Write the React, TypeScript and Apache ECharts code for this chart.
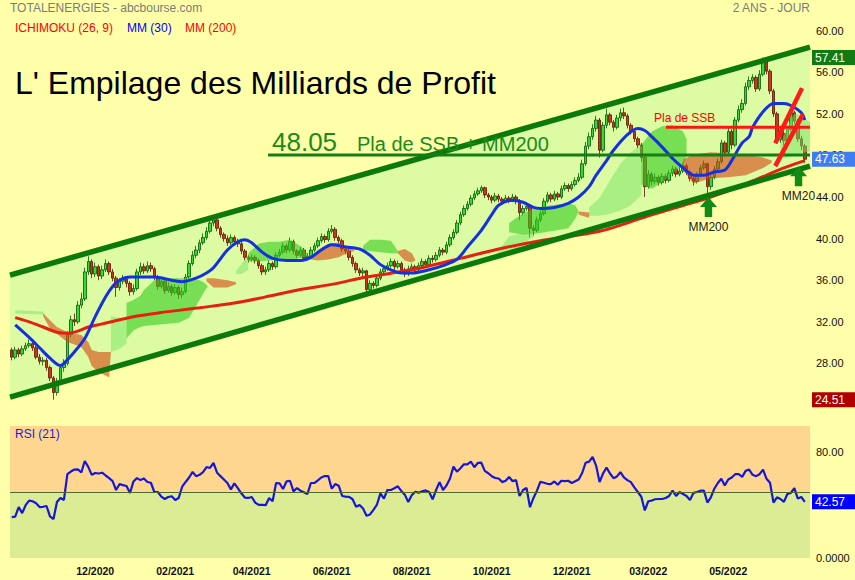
import React, { useEffect, useRef } from "react";
import * as echarts from "echarts";

const FONT = "Liberation Sans, Arial, Helvetica, sans-serif";

// ---------- data ----------
const N_SLOTS = 230;
const FIRST_OPEN = 29.3;

const closes = [
  28.6, 29.3, 28.9, 29.4, 29.7, 29.9, 29.5, 28.6, 28.2, 28.3,
  27.6, 26.6, 25.2, 26.3, 27.6, 28.0, 30.8, 32.2, 32.0, 33.6,
  34.2, 36.8, 37.8, 36.6, 37.3, 36.4, 37.0, 37.6, 36.8, 36.2,
  35.3, 35.9, 36.1, 35.7, 34.9, 35.2, 36.8, 37.3, 36.9, 37.4,
  37.1, 36.3, 35.4, 35.9, 35.0, 35.4, 34.8, 35.3, 34.6, 34.9,
  36.3, 37.6, 38.4, 38.9, 39.6, 40.1, 40.7, 41.5, 41.8, 41.0,
  40.4, 40.0, 39.6, 40.1, 39.7, 39.5, 38.8, 38.2, 38.0, 38.2,
  37.9, 37.4, 36.8, 37.0, 37.6, 37.3, 38.4, 38.7, 39.3, 38.9,
  39.7, 38.8, 38.4, 38.9, 38.1, 38.3, 38.9, 39.3, 39.8, 40.2,
  39.9, 40.7, 40.9, 40.1, 39.8, 39.0, 38.8, 38.2, 37.6, 37.0,
  36.7, 36.9, 35.1, 35.7, 35.5, 36.2, 36.8, 37.1, 37.4, 37.8,
  37.3, 37.6, 37.0, 36.6, 37.1, 37.3, 37.0, 37.4, 37.8, 37.5,
  38.1, 38.0, 38.4, 38.9, 38.7, 39.4, 40.1, 40.6, 41.5, 42.3,
  42.9, 43.3, 43.9, 44.3, 44.6, 44.9, 44.2, 44.0, 43.7, 44.1,
  43.8, 43.6, 43.9, 43.7, 44.0, 43.6, 42.5, 42.9, 43.1, 41.0,
  40.8, 41.8, 42.4, 43.6, 44.2, 43.8, 44.3, 44.0, 44.8, 45.1,
  44.8, 45.2, 45.6, 45.9, 47.2, 48.9, 49.8, 50.6, 51.4, 48.5,
  50.9, 51.9, 51.2, 50.7, 51.6, 52.1, 51.8, 50.9, 50.3, 49.6,
  49.0, 47.8, 45.0, 46.2, 45.5, 45.9, 45.4, 46.0, 45.6, 46.3,
  46.7, 46.2, 46.5, 47.0, 46.4, 45.8, 45.5, 46.1, 46.8, 47.2,
  45.0, 45.9, 46.7, 47.4, 49.2, 48.3, 50.3, 49.0, 51.4, 52.4,
  53.0, 54.6, 55.2, 55.5, 54.4, 55.8, 57.0, 56.1, 54.2, 52.0,
  49.5, 50.1, 49.4, 50.5, 52.1, 51.3, 49.6, 48.9, 47.63,
];

const highs = [
  29.5, 29.6, 29.5, 29.7, 30.0, 30.3, 30.1, 29.7, 28.9, 28.6,
  28.5, 27.8, 26.8, 26.6, 27.9, 28.4, 31.1, 32.6, 32.8, 34.0,
  34.8, 37.2, 38.3, 38.0, 37.7, 37.5, 37.4, 38.0, 37.8, 37.1,
  36.4, 36.2, 36.5, 36.3, 35.9, 35.6, 37.1, 37.7, 37.6, 37.8,
  37.7, 37.3, 36.5, 36.3, 36.1, 35.8, 35.6, 35.6, 35.5, 35.3,
  36.6, 37.9, 38.8, 39.3, 39.9, 40.5, 41.1, 41.9, 42.2, 42.0,
  41.2, 40.6, 40.3, 40.4, 40.3, 40.0, 39.7, 39.0, 38.4, 38.5,
  38.4, 38.1, 37.6, 37.3, 37.9, 37.8, 38.7, 39.0, 39.6, 39.5,
  40.1, 39.9, 39.0, 39.2, 39.1, 38.6, 39.2, 39.6, 40.1, 40.5,
  40.4, 41.0, 41.3, 41.1, 40.3, 40.0, 39.2, 39.0, 38.4, 37.8,
  37.2, 37.2, 37.0, 36.0, 35.9, 36.5, 37.1, 37.4, 37.7, 38.1,
  38.0, 37.9, 37.8, 37.2, 37.4, 37.6, 37.5, 37.7, 38.1, 38.0,
  38.4, 38.4, 38.7, 39.2, 39.1, 39.7, 40.4, 40.9, 41.8, 42.6,
  43.2, 43.6, 44.2, 44.6, 44.9, 45.1, 45.0, 44.4, 44.2, 44.4,
  44.3, 44.0, 44.2, 44.1, 44.3, 44.2, 43.8, 43.2, 43.5, 43.2,
  41.3, 42.1, 42.7, 43.9, 44.5, 44.4, 44.6, 44.5, 45.1, 45.4,
  45.3, 45.5, 45.9, 46.3, 47.6, 49.3, 50.2, 51.0, 51.8, 51.6,
  51.2, 52.5, 52.1, 51.4, 51.9, 52.5, 52.6, 52.0, 51.1, 50.5,
  49.8, 49.2, 48.0, 46.6, 46.4, 46.3, 46.1, 46.3, 46.2, 46.6,
  47.0, 46.9, 46.9, 47.3, 47.2, 46.6, 46.0, 46.4, 47.1, 47.5,
  47.3, 46.2, 47.0, 47.7, 49.5, 49.4, 50.7, 50.5, 51.7, 52.8,
  53.4, 55.0, 55.6, 55.8, 55.7, 56.2, 57.41, 57.2, 56.3, 54.4,
  52.2, 50.5, 50.4, 50.8, 52.5, 52.3, 51.5, 49.9, 49.1,
];

const lows = [
  28.3, 28.4, 28.6, 28.7, 29.2, 29.5, 29.2, 28.4, 27.9, 27.8,
  27.3, 26.3, 24.51, 24.9, 26.1, 27.2, 27.8, 30.5, 31.6, 31.8,
  33.3, 34.0, 36.5, 36.2, 36.3, 36.0, 36.1, 36.8, 36.5, 35.9,
  34.4, 35.0, 35.6, 35.3, 34.5, 34.6, 35.0, 36.5, 36.6, 36.7,
  36.8, 36.0, 35.1, 35.2, 34.7, 34.8, 34.5, 34.6, 34.2, 34.3,
  34.7, 36.1, 37.4, 38.1, 38.6, 39.4, 39.9, 40.5, 41.2, 40.7,
  40.1, 39.7, 39.3, 39.4, 39.4, 39.2, 38.5, 37.9, 37.7, 37.8,
  37.6, 37.1, 36.5, 36.5, 36.8, 37.0, 37.1, 38.2, 38.5, 38.6,
  38.7, 38.5, 38.1, 38.2, 37.8, 37.9, 38.1, 38.7, 39.1, 39.6,
  39.6, 39.7, 40.5, 39.8, 39.5, 38.7, 38.5, 37.9, 37.3, 36.7,
  36.4, 36.4, 34.4, 34.8, 35.2, 35.3, 36.0, 36.6, 36.9, 37.2,
  37.0, 37.1, 36.7, 36.3, 36.4, 36.9, 36.7, 36.8, 37.2, 37.2,
  37.3, 37.7, 37.8, 38.2, 38.4, 38.5, 39.2, 39.9, 40.4, 41.3,
  42.1, 42.7, 43.1, 43.7, 44.1, 44.4, 43.9, 43.7, 43.4, 43.5,
  43.5, 43.3, 43.4, 43.4, 43.5, 43.3, 41.8, 42.2, 42.7, 40.1,
  40.3, 40.6, 41.6, 42.2, 43.4, 43.5, 43.6, 43.7, 43.8, 44.6,
  44.5, 44.6, 45.0, 45.4, 45.7, 47.0, 48.6, 49.5, 50.3, 47.8,
  48.3, 50.6, 50.9, 50.3, 50.5, 51.3, 51.5, 50.6, 50.0, 49.3,
  48.7, 47.4, 44.0, 44.8, 45.1, 45.2, 45.1, 45.2, 45.3, 45.4,
  46.0, 45.9, 46.0, 46.3, 46.1, 45.5, 45.1, 45.3, 45.9, 46.6,
  44.0, 44.7, 45.7, 46.5, 47.2, 48.0, 48.1, 48.6, 48.8, 51.2,
  52.1, 52.8, 54.3, 54.9, 54.1, 54.2, 55.6, 55.8, 53.9, 51.7,
  49.1, 49.2, 49.0, 49.2, 50.3, 51.0, 49.3, 48.5, 47.3,
];

const rsi = [
  31, 31.3, 38.6, 34, 40, 43.5, 43, 41.5, 38.6, 38.8,
  39.4, 31.5, 29.5, 42.4, 45.5, 44, 63.5, 65.5, 67, 67.2,
  64.8, 73.5, 69, 63, 64.4, 64, 64.6, 62.5, 60.5, 58.3,
  51.5, 56, 55.2, 54.5, 49.2, 58, 60.5, 59, 60.2, 57.6,
  57, 50, 50, 46.5, 44.7, 46.2, 46.8, 43.9, 45.5, 54,
  57.6, 61, 65.2, 62, 63, 65, 68.9, 68.2, 72, 64.8,
  62, 59.5, 56.8, 52, 56.5, 53, 49, 45.8, 45.5, 46.2,
  42, 40.2, 40.2, 40, 45.5, 43, 56.8, 56.5, 52.3, 58,
  58.5, 50.5, 53, 51, 49.8, 48.5, 56.8, 56.8, 58.8, 61,
  62.1, 62.1, 52.5, 56, 54.8, 47, 46.5, 46.3, 44.5, 38.8,
  40.2, 37.5, 32, 33, 36.5, 40.5, 49, 45, 51.5, 51.5,
  52.8, 54.3, 50.8, 48, 42.5, 47.5, 50.2, 49.5, 50.5, 51.2,
  50, 44.5, 51.5, 57.5, 51.5, 55, 60.2, 69.2, 65.4, 68,
  71, 71, 73, 68.8, 72, 72.2, 66, 64.2, 62, 60.6,
  60.2, 57.5, 58.5, 61.4, 58.2, 59, 47, 51.5, 53, 38.5,
  45.5, 51, 57.8, 57, 56.2, 56, 58, 55.5, 58.5, 58.2,
  58.5, 56.8, 58.2, 59.5, 64.4, 72.2, 73, 76.5, 70, 57.5,
  64, 68.5, 64, 60.5, 61.8, 65, 61, 59, 57.5, 53.5,
  50, 46.4, 36, 43, 43.5, 44.5, 44.7, 44.7, 45.5, 47,
  51, 47, 50, 48.5, 47, 44, 49.3, 50, 51, 51,
  42, 46, 52.5, 56.8, 60, 55, 59.5, 61, 63.5, 63.5,
  61.5, 66, 67, 63, 62, 63.5, 67, 60, 57, 42,
  46, 44.7, 42.5, 48.5, 49.3, 53, 45, 46.2, 42.57,
];

// moving averages: [slot index, value]
const mm30 = [
  [1, 31.7], [5, 30.5], [8, 29.5], [11, 28.5], [14, 27.8], [15, 28.0], [18, 29.1],
  [21, 30.4], [24, 32.5], [27, 34.4], [29, 35.4], [31, 36.0], [34, 36.3], [37, 36.3],
  [41, 36.3], [46, 36.0], [49, 35.85], [53, 36.2], [56, 36.7], [58, 37.2], [62, 38.9],
  [65, 39.7], [67, 39.9], [69, 39.6], [72, 38.7], [75, 38.1], [79, 37.9], [83, 37.9],
  [86, 38.2], [89, 38.9], [92, 39.4], [96, 39.2], [100, 39.0], [103, 38.4], [106, 37.5],
  [109, 37.0], [112, 36.7], [115, 36.7], [120, 37.0], [124, 37.4], [128, 38.0],
  [131, 39.2], [135, 40.8], [138, 42.3], [140, 43.2], [144, 43.7], [147, 43.5],
  [150, 43.0], [152, 42.9], [156, 43.0], [160, 43.4], [163, 44.0], [166, 45.0],
  [168, 46.1], [171, 47.5], [173, 48.5], [177, 50.0], [180, 50.6], [182, 50.4],
  [184, 49.8], [187, 48.8], [190, 47.7], [193, 46.8], [196, 46.1], [199, 46.1],
  [202, 46.4], [205, 46.6], [207, 47.5], [210, 49.2], [212, 49.8], [213, 50.7],
  [216, 52.2], [219, 53.0], [222, 53.0], [224, 52.8], [227, 52.1], [228, 51.4],
];

const mm200 = [
  [1, 32.4], [5, 32.0], [9, 31.5], [13, 31.0], [16, 30.9], [19, 31.1], [22, 31.5],
  [26, 31.8], [31, 32.2], [37, 32.6], [43, 32.9], [48, 33.1], [54, 33.35], [64, 33.8],
  [73, 34.4], [83, 35.1], [92, 35.6], [102, 36.3], [115, 37.0], [129, 38.1],
  [140, 39.0], [152, 39.8], [169, 40.7], [184, 42.3], [201, 44.0], [212, 45.4],
  [222, 46.8], [228, 47.5],
];

// Ichimoku cloud pieces: rows of [slot index, upper, lower]
const kumoBull = [
  [[33, 33.8, 30.4], [35, 34.1, 31.2], [37, 34.5, 31.5], [38, 35.05, 31.6], [41, 36.0, 31.7],
   [44, 36.2, 31.8], [48, 36.2, 31.9], [51, 36.2, 32.4], [54, 36.0, 34.1], [55.6, 35.7, 35.05], [56.4, 35.4, 35.4]],
  [[68, 38.6, 37.8], [71, 39.5, 37.8], [74, 39.7, 37.9], [77, 39.7, 38.0], [80, 39.9, 38.0], [83, 39.3, 38.1], [85, 38.6, 38.3]],
  [[101, 39.3, 38.9], [103, 39.9, 38.8], [106, 39.9, 38.7], [109, 39.8, 38.6], [111, 38.8, 38.6]],
  [[143, 41.5, 40.6], [147, 42.45, 40.4], [151, 43.0, 40.5], [155, 43.2, 40.7], [160, 43.4, 41.0], [162, 43.2, 41.9], [163, 42.6, 42.6]],
  [[181, 49.0, 45.2], [184, 50.3, 44.8], [187, 50.8, 45.4], [190, 50.9, 46.3], [193, 50.3, 47.0], [194, 49.6, 48.0]],
];

const kumoBear = [
  [[9, 32.84, 32.55], [11, 32.16, 31.39], [13, 31.49, 30.82], [16, 31.0, 30.05], [20, 30.72, 29.57],
   [22, 30.05, 28.61], [23, 29.28, 27.74], [25, 29.09, 27.16], [28, 29.09, 26.68], [28.5, 29.09, 29.0]],
  [[56, 36.2, 35.9], [58, 36.2, 35.3], [62, 36.0, 35.3], [64.5, 35.8, 35.6]],
  [[86, 38.2, 38.0], [88, 38.9, 37.9], [91, 39.5, 38.0], [94, 39.6, 38.2], [97, 39.2, 38.7], [98.5, 38.9, 38.8]],
  [[111, 38.8, 38.6], [113, 39.0, 37.9], [115, 38.6, 37.7], [116, 38.0, 37.9]],
  [[163, 42.6, 42.3], [166, 42.5, 42.0]],
  [[193, 47.6, 46.6], [196, 48.1, 45.3], [201, 48.3, 45.8], [206, 48.2, 45.9], [211, 48.1, 46.1], [216, 47.8, 46.8], [218.5, 47.5, 47.3]],
];

const kumoLight = [
  [[1, 33.1, 32.8], [9, 33.0, 32.7]],
  [[28.5, 32.5, 29.1], [31, 32.4, 29.4], [33, 32.2, 29.9]],
  [[64.5, 36.9, 36.6], [66, 37.5, 36.6], [68, 38.4, 37.0]],
  [[139, 38.3, 37.9], [141, 39.3, 38.1], [143, 40.2, 38.6], [146, 40.5, 39.2], [150, 40.5, 40.2]],
  [[166, 43.0, 42.2], [169, 43.9, 42.2], [172, 45.6, 42.4], [175, 47.2, 42.7], [178, 48.3, 43.2], [181, 49.0, 44.2]],
  [[221, 49.0, 47.6], [223, 50.8, 47.8], [225, 52.0, 48.0], [227, 51.8, 48.2], [229.5, 51.2, 48.4]],
];

// drawn annotations (slot index, price)
const channelUpper = [[-0.5, 36.49], [229.5, 58.41]];
const channelLower = [[-0.5, 24.76], [229.5, 46.97]];
const levelSSBMM200 = [[73.7, 48.05], [229.5, 48.05]];
const levelSSB = [[188.1, 50.72], [229.5, 50.72]];
const trendA = [[219.5, 49.18], [227.2, 54.47]];
const trendB = [[219.5, 46.97], [227.5, 51.97]];
const arrowMarks = [
  { name: "MM200", coord: [200.3, 43.03] },
  { name: "MM20", coord: [226.2, 46.0] },
];

const xTickIdx = [24, 47, 69, 92, 115, 138, 161, 183, 206];
const xTickLabels = ["12/2020", "02/2021", "04/2021", "06/2021", "08/2021", "10/2021", "12/2021", "03/2022", "05/2022"];

const priceBoxes = [
  { value: 57.41, color: "#127a12" },
  { value: 47.63, color: "#3f7ef0" },
  { value: 24.51, color: "#b00000" },
];
const rsiLast = 42.57;

// ---------- helpers ----------
function polySeries(pieces: number[][][], color: string, z: number) {
  return {
    type: "custom",
    xAxisIndex: 1,
    yAxisIndex: 0,
    z,
    silent: true,
    clip: true,
    data: pieces.map((p, k) => [p[0][0], p[0][1], k]),
    encode: { x: 0, y: 1 },
    renderItem: (_params: any, api: any) => {
      const piece = pieces[api.value(2)];
      const top = piece.map((r) => api.coord([r[0], r[1]]));
      const bot = piece.slice().reverse().map((r) => api.coord([r[0], r[2]]));
      return { type: "polygon", shape: { points: top.concat(bot) }, style: { fill: color } };
    },
  };
}

function segLine(data: number[][], color: string, width: number, z: number, extra: any = {}) {
  return {
    type: "line",
    xAxisIndex: 1,
    yAxisIndex: 0,
    data,
    z,
    silent: true,
    showSymbol: false,
    symbol: "none",
    lineStyle: { color, width },
    ...extra,
  };
}

function txt(text: string, x: number, y: number, fill: string, fontSize: number, align = "left") {
  return {
    type: "text",
    x,
    y,
    z: 100,
    silent: true,
    style: {
      text,
      fill,
      fontSize,
      fontFamily: FONT,
      textAlign: align,
      align,
      textVerticalAlign: "middle",
      verticalAlign: "middle",
    },
  };
}

const HIDDEN = "rgba(0,0,0,0)";

export default function App() {
  const ref = useRef<HTMLDivElement>(null);

  useEffect(() => {
    if (!ref.current) return;
    const chart = echarts.init(ref.current, undefined, { renderer: "svg" });

    const cats = Array.from({ length: N_SLOTS }, (_, i) => String(i));
    const opens = closes.map((c, i) => (i === 0 ? FIRST_OPEN : closes[i - 1]));
    const candleData = closes.map((c, i) => [opens[i], c, lows[i], highs[i]]);
    const channelPiece = [[
      [channelUpper[0][0], channelUpper[0][1], channelLower[0][1]],
      [channelUpper[1][0], channelUpper[1][1], channelLower[1][1]],
    ]];

    const boxLabel = (value: number, color: string) => ({
      yAxis: value,
      lineStyle: { color: HIDDEN, width: 1 },
      label: {
        show: true,
        position: "end",
        formatter: value.toFixed(2),
        color: "#ffffff",
        backgroundColor: color,
        padding: [2, 12, 1, 3],
        fontSize: 12,
        lineHeight: 12,
        fontFamily: FONT,
        distance: 2,
      },
    });

    const option: any = {
      animation: false,
      backgroundColor: "#ffffaa",
      textStyle: { fontFamily: FONT },
      grid: [
        { left: 10, right: 45, top: 22, height: 383, outerBoundsMode: "none", containLabel: false },
        { left: 10, right: 45, top: 426, height: 132, outerBoundsMode: "none", containLabel: false },
      ],
      xAxis: [
        { type: "category", gridIndex: 0, data: cats, boundaryGap: true, show: false },
        { type: "value", gridIndex: 0, min: -0.5, max: N_SLOTS - 0.5, show: false },
        {
          type: "category",
          gridIndex: 1,
          data: cats,
          boundaryGap: true,
          axisLine: { show: false },
          axisTick: { show: false },
          splitLine: { show: false },
          axisLabel: {
            interval: (idx: number) => xTickIdx.indexOf(idx) >= 0,
            formatter: (_v: string, idx: number) => {
              const k = xTickIdx.indexOf(idx);
              return k >= 0 ? xTickLabels[k] : "";
            },
            color: "#111111",
            fontWeight: "bold",
            fontSize: 10.5,
            fontFamily: FONT,
            margin: 7,
            hideOverlap: false,
          },
        },
      ],
      yAxis: [
        {
          type: "value",
          gridIndex: 0,
          position: "right",
          min: 24,
          max: 60.83,
          interval: 4,
          axisLine: { show: false },
          axisTick: { show: false },
          splitLine: { show: false },
          axisLabel: {
            formatter: (v: number) => (v >= 27 && Math.abs(v % 4) < 1e-6 ? v.toFixed(2) : ""),
            color: "#111111",
            fontSize: 11,
            fontFamily: FONT,
            margin: 6,
          },
        },
        {
          type: "value",
          gridIndex: 1,
          position: "right",
          min: 0,
          max: 100,
          interval: 40,
          axisLine: { show: false },
          axisTick: { show: false },
          splitLine: { show: false },
          axisLabel: {
            formatter: (v: number) => (v === 0 ? "0.0000" : v === 40 || v === 80 ? v.toFixed(2) : ""),
            color: "#111111",
            fontSize: 11,
            fontFamily: FONT,
            margin: 6,
          },
        },
      ],
      series: [
        polySeries(channelPiece, "#dcfba2", 0),
        {
          type: "candlestick",
          xAxisIndex: 0,
          yAxisIndex: 0,
          z: 1,
          silent: true,
          barWidth: 3,
          data: candleData,
          itemStyle: {
            color: "#2fdc2f",
            color0: "#c8391b",
            borderColor: "#0b560b",
            borderColor0: "#5a1406",
            borderWidth: 0.8,
          },
        },
        polySeries(kumoLight, "rgba(120,228,100,0.5)", 2),
        polySeries(kumoBull, "rgba(53,205,33,0.6)", 2),
        polySeries(kumoBear, "rgba(213,72,22,0.6)", 2),
        segLine(mm200, "#e62010", 3, 3, {
          smooth: 0.3,
          markPoint: {
            silent: true,
            symbol: "path://M8,0L16,10L11.5,10L11.5,20L4.5,20L4.5,10L0,10Z",
            symbolSize: [17, 20],
            itemStyle: { color: "#138a13" },
            label: {
              show: true,
              position: "bottom",
              distance: 4,
              formatter: "{b}",
              color: "#222222",
              fontSize: 12,
              fontFamily: FONT,
            },
            data: arrowMarks,
          },
        }),
        segLine(mm30, "#1430e0", 3, 3, { smooth: 0.3 }),
        segLine(channelUpper, "#0b7a0b", 5.5, 4),
        segLine(channelLower, "#0b7a0b", 5.5, 4),
        segLine(levelSSBMM200, "#147d14", 3, 4),
        segLine(levelSSB, "#ff1414", 3, 4),
        segLine(trendA, "#ff1a1a", 4.5, 5),
        segLine(trendB, "#ff1a1a", 4.5, 5),
        segLine(levelSSBMM200, HIDDEN, 0, 10, {
          markLine: {
            silent: true,
            symbol: "none",
            data: priceBoxes.map((b) => boxLabel(b.value, b.color)),
          },
        }),
        {
          type: "line",
          xAxisIndex: 2,
          yAxisIndex: 1,
          data: rsi,
          z: 3,
          silent: true,
          showSymbol: false,
          symbol: "none",
          lineStyle: { color: "#1616d8", width: 2.2 },
          markArea: {
            silent: true,
            data: [
              [{ yAxis: 50, itemStyle: { color: "#ffd690" } }, { yAxis: 100 }],
              [{ yAxis: 0, itemStyle: { color: "#dcec94" } }, { yAxis: 50 }],
            ],
          },
          markLine: {
            silent: true,
            symbol: "none",
            data: [
              { yAxis: 50, lineStyle: { color: "#4d6b2a", width: 1, type: "solid" }, label: { show: false } },
              boxLabel(rsiLast, "#0000ff"),
            ],
          },
        },
      ],
      graphic: [
        txt("TOTALENERGIES - abcbourse.com", 10, 8, "#7b7b7b", 12),
        txt("2 ANS - JOUR", 810, 8, "#7b7b7b", 12, "right"),
        txt("ICHIMOKU (26, 9)", 15, 28, "#ff0000", 12),
        txt("MM (30)", 127, 28, "#0000ff", 12),
        txt("MM (200)", 185, 28, "#ff0000", 12),
        txt("L' Empilage des Milliards de Profit", 15, 83, "#000000", 32),
        txt("48.05", 272, 142, "#1a8a1a", 26),
        txt("Pla de SSB + MM200", 357, 144, "#1a8a1a", 20),
        txt("Pla de SSB", 654, 118, "#ff0000", 12),
        txt("RSI (21)", 15, 434, "#1a1ad8", 12),
      ],
    };

    chart.setOption(option);
    return () => chart.dispose();
  }, []);

  return (
    <div
      ref={ref}
      style={{ position: "fixed", left: 0, top: 0, width: 855, height: 580, background: "#ffffaa" }}
    />
  );
}
